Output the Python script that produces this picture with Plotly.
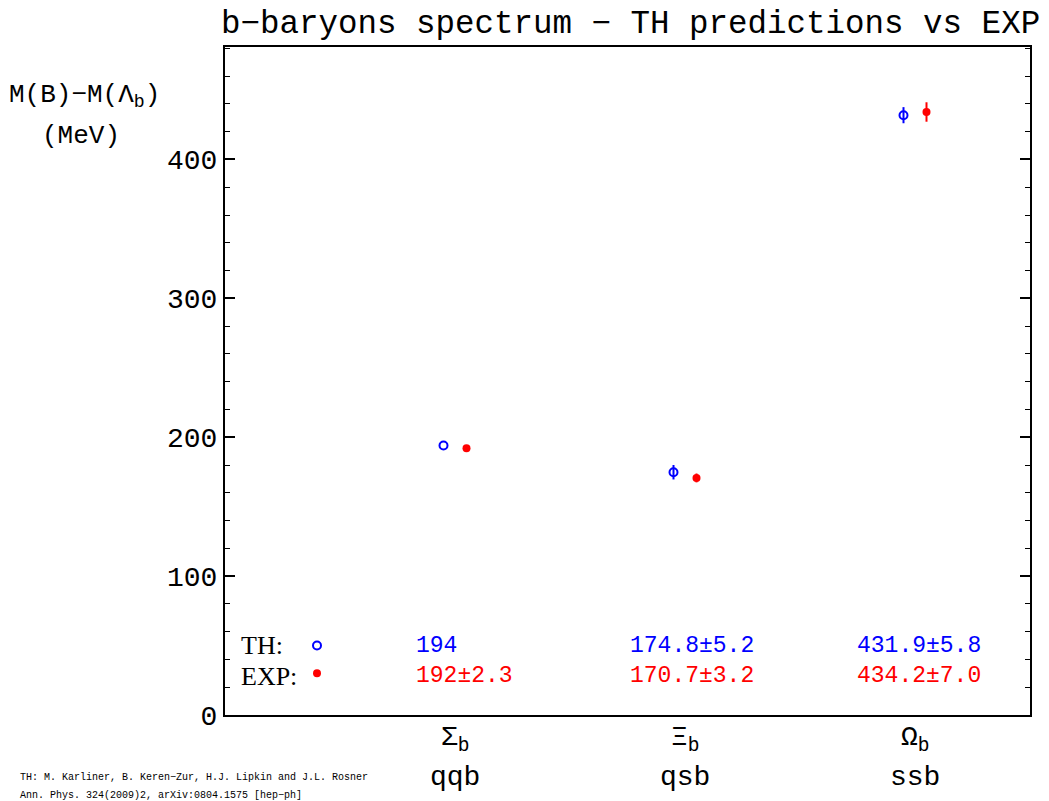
import plotly.graph_objects as go

categories = ["Σ<sub>b</sub>", "Ξ<sub>b</sub>", "Ω<sub>b</sub>"]
quarks = ["qqb", "qsb", "ssb"]
cat_pos = [1, 2, 3]
th_vals = [194.0, 174.8, 431.9]
th_err = [0.0, 5.2, 5.8]
exp_vals = [192.0, 170.7, 434.2]
exp_err = [2.3, 3.2, 7.0]
th_labels = ["194", "174.8±5.2", "431.9±5.8"]
exp_labels = ["192±2.3", "170.7±3.2", "434.2±7.0"]
yticks = [0, 100, 200, 300, 400]

MONO = "Liberation Mono"
offset = 0.05

fig = go.Figure()
fig.add_trace(go.Scatter(
    x=[p - offset for p in cat_pos], y=th_vals,
    mode="markers",
    marker=dict(symbol="circle-open", size=8, color="blue", line=dict(width=2, color="blue")),
    error_y=dict(type="data", array=th_err, visible=True, color="blue", thickness=2, width=0),
    showlegend=False,
))
fig.add_trace(go.Scatter(
    x=[p + offset for p in cat_pos], y=exp_vals,
    mode="markers",
    marker=dict(symbol="circle", size=8, color="red"),
    error_y=dict(type="data", array=exp_err, visible=True, color="red", thickness=2, width=0),
    showlegend=False,
))
# legend markers
fig.add_trace(go.Scatter(
    x=[0.40], y=[50], mode="markers",
    marker=dict(symbol="circle-open", size=8, color="blue", line=dict(width=2, color="blue")),
    showlegend=False, cliponaxis=False,
))
fig.add_trace(go.Scatter(
    x=[0.40], y=[30], mode="markers",
    marker=dict(symbol="circle", size=8, color="red"),
    showlegend=False, cliponaxis=False,
))

ann = []
ann.append(dict(x=0.06, y=50, xref="x", yref="y", text="TH:", showarrow=False,
                xanchor="left", yanchor="middle", font=dict(family="Liberation Serif", size=26, color="black")))
ann.append(dict(x=0.06, y=28, xref="x", yref="y", text="EXP:", showarrow=False,
                xanchor="left", yanchor="middle", font=dict(family="Liberation Serif", size=26, color="black")))
label_x = [0.82, 1.75, 2.74]
for lx, t, e in zip(label_x, th_labels, exp_labels):
    ann.append(dict(x=lx, y=50, xref="x", yref="y", text=t, showarrow=False,
                    xanchor="left", yanchor="middle", font=dict(family=MONO, size=23, color="blue")))
    ann.append(dict(x=lx, y=28, xref="x", yref="y", text=e, showarrow=False,
                    xanchor="left", yanchor="middle", font=dict(family=MONO, size=23, color="red")))
for p, c, q in zip(cat_pos, categories, quarks):
    ann.append(dict(x=p, y=-0.037, xref="x", yref="paper", text=c, showarrow=False,
                    xanchor="center", yanchor="middle", font=dict(family=MONO, size=28, color="black")))
    ann.append(dict(x=p, y=-0.094, xref="x", yref="paper", text=q, showarrow=False,
                    xanchor="center", yanchor="middle", font=dict(family=MONO, size=28, color="black")))

# y-axis title (two lines)
ann.append(dict(x=-0.174, y=0.927, xref="paper", yref="paper", text="M(B)−M(Λ<sub>b</sub>)", showarrow=False,
                xanchor="center", yanchor="middle", font=dict(family=MONO, size=26, color="black")))
ann.append(dict(x=-0.179, y=0.867, xref="paper", yref="paper", text="(MeV)", showarrow=False,
                xanchor="center", yanchor="middle", font=dict(family=MONO, size=26, color="black")))
# footnote
ann.append(dict(x=-0.257, y=-0.094, xref="paper", yref="paper",
                text="TH: M. Karliner, B. Keren−Zur, H.J. Lipkin and J.L. Rosner",
                showarrow=False, xanchor="left", yanchor="middle", align="left",
                font=dict(family=MONO, size=10, color="black")))
ann.append(dict(x=-0.257, y=-0.12, xref="paper", yref="paper",
                text="Ann. Phys. 324(2009)2, arXiv:0804.1575 [hep−ph]",
                showarrow=False, xanchor="left", yanchor="middle", align="left",
                font=dict(family=MONO, size=10, color="black")))

fig.update_layout(
    width=1041, height=793,
    margin=dict(l=217, r=19, t=39, b=86),
    paper_bgcolor="white", plot_bgcolor="white",
    title=dict(text="b−baryons spectrum − TH predictions vs EXP", x=0.9915, xanchor="right",
               y=0.997, yanchor="top", font=dict(family=MONO, size=32.5, color="black")),
    annotations=ann,
    xaxis=dict(range=[0, 3.5], showticklabels=False, ticks="", showgrid=False, zeroline=False,
               showline=True, linecolor="black", linewidth=2, mirror=True),
    yaxis=dict(range=[0, 481], tickvals=yticks, ticks="inside", ticklen=10, tickwidth=1.5, tickcolor="black",
               showgrid=False, zeroline=False, showline=True, linecolor="black", linewidth=2, mirror="allticks",
               tickfont=dict(family=MONO, size=28, color="black"),
               minor=dict(dtick=20, ticks="inside", ticklen=5, tickcolor="black", tickwidth=1.2, showgrid=False)),
)

fig.write_html("out.html")
